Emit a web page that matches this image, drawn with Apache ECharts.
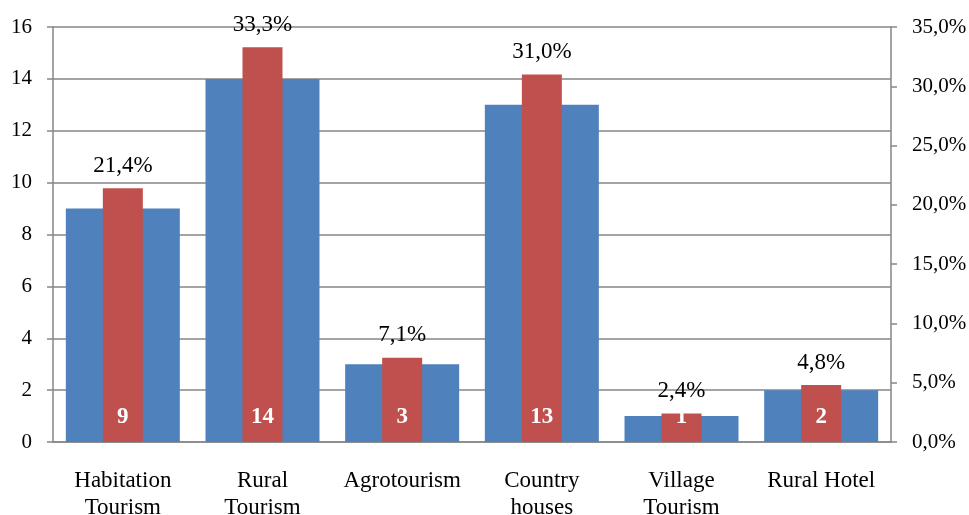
<!DOCTYPE html>
<html>
<head>
<meta charset="utf-8">
<script src="https://cdn.jsdelivr.net/npm/echarts@6/dist/echarts.min.js"></script>
<style>
  html, body { margin: 0; padding: 0; background: #fff; }
  #chart { width: 969px; height: 515px; }
</style>
</head>
<body>
<div id="chart"></div>
<script>
const categories = ['Habitation\nTourism', 'Rural\nTourism', 'Agrotourism', 'Country\nhouses', 'Village\nTourism', 'Rural Hotel']
const counts = [9, 14, 3, 13, 1, 2]
const shares = [21.4, 33.3, 7.1, 31.0, 2.4, 4.8] // percent

const font = 'Liberation Serif'
const fmtPct = v => v.toFixed(1).replace('.', ',') + '%'

const chart = echarts.init(document.getElementById('chart'))

const option = {
  animation: false,
  grid: { left: 53, right: 78, top: 27, bottom: 73, outerBoundsMode: 'none' },
  xAxis: [
    {
      type: 'category',
      data: categories,
      axisLine: { lineStyle: { color: '#868686', width: 1.5 } },
      axisTick: { length: 6, lineStyle: { color: '#868686', width: 1.5 } },
      axisLabel: { color: '#000', fontFamily: font, fontSize: 23, lineHeight: 27, margin: 25, interval: 0 }
    },
    {
      type: 'category',
      data: categories,
      show: false
    }
  ],
  yAxis: [
    {
      type: 'value',
      min: 0,
      max: 16,
      interval: 2,
      axisLine: { show: true, lineStyle: { color: '#868686', width: 1.5 } },
      axisTick: { show: true, length: 6, lineStyle: { color: '#868686', width: 1.5 } },
      splitLine: { lineStyle: { color: '#868686', width: 1.5 } },
      axisLabel: { color: '#000', fontFamily: font, fontSize: 21, margin: 21 }
    },
    {
      type: 'value',
      min: 0,
      max: 35,
      interval: 5,
      position: 'right',
      axisLine: { show: true, lineStyle: { color: '#868686', width: 1.5 } },
      axisTick: { show: true, length: 6, lineStyle: { color: '#868686', width: 1.5 } },
      splitLine: { show: false },
      axisLabel: { color: '#000', fontFamily: font, fontSize: 21, margin: 21, formatter: v => fmtPct(v) }
    }
  ],
  series: [
    {
      name: 'Count',
      type: 'bar',
      xAxisIndex: 0,
      yAxisIndex: 0,
      data: counts,
      barWidth: 114,
      itemStyle: { color: '#4F81BD' }
    },
    {
      name: 'Share',
      type: 'bar',
      xAxisIndex: 1,
      yAxisIndex: 1,
      data: shares,
      barWidth: 40,
      z: 3,
      itemStyle: { color: '#C0504D' },
      label: {
        show: true,
        position: 'top',
        distance: 11,
        color: '#000',
        fontFamily: font,
        fontSize: 23,
        formatter: p => fmtPct(p.value)
      }
    },
    {
      // count labels inside the red bars
      name: 'CountLabel',
      type: 'bar',
      xAxisIndex: 1,
      yAxisIndex: 1,
      data: shares,
      barWidth: 40,
      barGap: '-100%',
      z: 4,
      silent: true,
      itemStyle: { color: 'rgba(0,0,0,0)' },
      label: {
        show: true,
        position: 'insideBottom',
        distance: 13,
        color: '#fff',
        fontFamily: font,
        fontWeight: 'bold',
        fontSize: 23,
        formatter: p => String(counts[p.dataIndex])
      }
    }
  ]
}

chart.setOption(option)
</script>
</body>
</html>
